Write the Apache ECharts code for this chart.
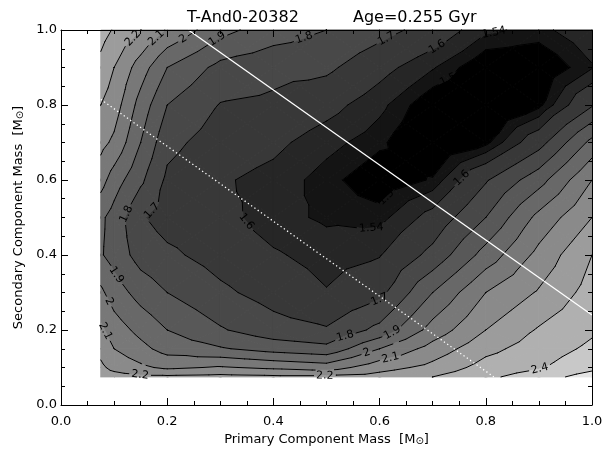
<!DOCTYPE html>
<html><head><meta charset="utf-8">
<script src="https://cdn.jsdelivr.net/npm/echarts@6.0.0/dist/echarts.min.js"></script>
<style>html,body{margin:0;padding:0;background:#fff;}#chart{width:613px;height:451px;}</style>
</head><body><div id="chart"></div>
<script>
// grid node positions (component masses)
const xNodes = [0.075, 0.1, 0.15, 0.2, 0.3, 0.4, 0.5, 0.6, 0.7, 0.8, 0.9, 1.0];
const yNodes = [0.075, 0.1, 0.15, 0.2, 0.3, 0.4, 0.5, 0.6, 0.7, 0.8, 0.9, 1.0];
// values read per row (secondary mass), columns follow xNodes
const zAtY0075 = [2.25, 2.24, 2.22, 2.22, 2.23, 2.22, 2.22, 2.24, 2.30, 2.38, 2.45, 2.55];
const zAtY0100 = [2.22, 2.17, 2.12, 2.08, 2.11, 2.08, 2.05, 2.16, 2.23, 2.34, 2.39, 2.47];
const zAtY0150 = [2.17, 2.10, 2.03, 1.96, 1.91, 1.86, 1.83, 2.00, 2.14, 2.27, 2.35, 2.42];
const zAtY0200 = [2.12, 2.05, 1.97, 1.90, 1.81, 1.74, 1.71, 1.83, 2.04, 2.20, 2.31, 2.385];
const zAtY0300 = [2.02, 1.95, 1.86, 1.80, 1.72, 1.66, 1.605, 1.67, 1.90, 2.10, 2.21, 2.34];
const zAtY0400 = [1.91, 1.86, 1.76, 1.72, 1.66, 1.61, 1.57, 1.595, 1.73, 1.94, 2.13, 2.30];
const zAtY0500 = [1.92, 1.86, 1.71, 1.66, 1.63, 1.56, 1.53, 1.52, 1.63, 1.80, 2.03, 2.20];
const zAtY0600 = [2.04, 1.95, 1.82, 1.68, 1.61, 1.575, 1.515, 1.465, 1.505, 1.69, 1.86, 2.10];
const zAtY0700 = [2.13, 2.08, 1.90, 1.73, 1.65, 1.62, 1.56, 1.51, 1.44, 1.485, 1.66, 1.93];
const zAtY0800 = [2.20, 2.15, 1.96, 1.80, 1.695, 1.68, 1.63, 1.555, 1.46, 1.43, 1.485, 1.69];
const zAtY0900 = [2.27, 2.20, 2.05, 1.90, 1.77, 1.73, 1.72, 1.63, 1.545, 1.455, 1.45, 1.535];
const zAtY1000 = [2.34, 2.29, 2.20, 2.09, 1.93, 1.85, 1.80, 1.735, 1.66, 1.55, 1.525, 1.58];
const zRows = [zAtY0075, zAtY0100, zAtY0150, zAtY0200, zAtY0300, zAtY0400, zAtY0500,
               zAtY0600, zAtY0700, zAtY0800, zAtY0900, zAtY1000];

// contour levels and grey of each band (below first level ... above last level)
const levels = [1.5, 1.54, 1.6, 1.7, 1.8, 1.9, 2.0, 2.1, 2.2, 2.3, 2.4, 2.5];
const bandGray = [0, 20, 38, 56, 72, 88, 104, 120, 138, 156, 176, 200, 228];

// contour labels: text and approximate anchor
const labelTexts = ['2.2','2.1','2','1.9','1.8','1.7','1.6','1.54','1.5','1.5','1.54','1.6','1.6','1.7','1.8','1.9','2','2.1','2.2','2.2','1.7','1.8','1.9','2','2.1','2.4'];
const labelXs = [0.145,0.185,0.228,0.29,0.455,0.616,0.707,0.817,0.726,0.61,0.585,0.748,0.35,0.152,0.117,0.111,0.098,0.087,0.149,0.497,0.604,0.538,0.626,0.576,0.62,0.902];
const labelYs = [0.965,0.97,0.98,0.985,0.99,0.967,0.958,0.98,0.877,0.557,0.455,0.615,0.49,0.543,0.513,0.353,0.281,0.2,0.081,0.081,0.273,0.17,0.188,0.139,0.127,0.095];

// constant total-mass lines (solid, dotted)
const massSums = [1.24, 0.89];
const titleLeft = 'T-And0-20382';
const titleRight = 'Age=0.255 Gyr';

const FONT = 'DejaVu Sans';
const EPS = 1e-6;
function fixv(v){ for (const L of levels) if (Math.abs(v - L) < EPS) v += 3 * EPS; return v; }
function bandColor(b){ const g = bandGray[b]; return 'rgb(' + g + ',' + g + ',' + g + ')'; }

function cellTris(api, i, j){
  const c = (ii, jj) => { const p = api.coord([xNodes[ii], yNodes[jj]]); return [p[0], p[1], fixv(zRows[jj][ii])]; };
  const a = c(i, j), b = c(i + 1, j), d = c(i + 1, j + 1), e = c(i, j + 1);
  const m = [(a[0]+b[0]+d[0]+e[0])/4, (a[1]+b[1]+d[1]+e[1])/4, fixv((a[2]+b[2]+d[2]+e[2])/4)];
  return [[a, b, m], [b, d, m], [d, e, m], [e, a, m]];
}
function clipPoly(poly, L, keepAbove){
  const out = [];
  for (let k = 0; k < poly.length; k++){
    const a = poly[k], b = poly[(k + 1) % poly.length];
    const ina = keepAbove ? a[2] >= L : a[2] <= L;
    const inb = keepAbove ? b[2] >= L : b[2] <= L;
    if (ina) out.push(a);
    if (ina !== inb){
      const t = (L - a[2]) / (b[2] - a[2]);
      out.push([a[0] + t * (b[0] - a[0]), a[1] + t * (b[1] - a[1]), L]);
    }
  }
  return out;
}
function triSeg(t, L){
  const pts = [];
  for (let k = 0; k < 3; k++){
    const a = t[k], b = t[(k + 1) % 3];
    if ((a[2] - L) * (b[2] - L) < 0){
      const s = (L - a[2]) / (b[2] - a[2]);
      pts.push([a[0] + s * (b[0] - a[0]), a[1] + s * (b[1] - a[1])]);
    }
  }
  return pts.length === 2 ? pts : null;
}

let cache = null;
function getPlacements(api){
  const o = api.coord([0, 0]), p = api.coord([1, 1]);
  const key = o.join(',') + ',' + p.join(',');
  if (cache && cache.key === key) return cache;
  const segs = levels.map(() => []);
  for (let i = 0; i < xNodes.length - 1; i++)
    for (let j = 0; j < yNodes.length - 1; j++)
      for (const t of cellTris(api, i, j))
        levels.forEach((L, li) => { const s = triSeg(t, L); if (s) segs[li].push(s); });
  const labels = labelTexts.map((txt, k) => {
    const L = parseFloat(txt);
    const li = levels.findIndex(l => Math.abs(l - L) < 1e-9);
    const A = api.coord([labelXs[k], labelYs[k]]);
    let best = null, bd = Infinity;
    for (const s of segs[li]){
      const dx = s[1][0] - s[0][0], dy = s[1][1] - s[0][1];
      const len2 = dx * dx + dy * dy || 1e-9;
      let u = ((A[0] - s[0][0]) * dx + (A[1] - s[0][1]) * dy) / len2;
      u = Math.max(0, Math.min(1, u));
      const qx = s[0][0] + u * dx, qy = s[0][1] + u * dy;
      const d = (qx - A[0]) ** 2 + (qy - A[1]) ** 2;
      if (d < bd){ bd = d; best = { x: qx, y: qy, dx, dy }; }
    }
    if (!best) return null;
    let rot = Math.atan2(-best.dy, best.dx);
    if (rot > Math.PI / 2) rot -= Math.PI;
    if (rot < -Math.PI / 2) rot += Math.PI;
    const w = txt.replace('.', '').length * 7 + (txt.indexOf('.') >= 0 ? 3.5 : 0);
    return { x: best.x, y: best.y, rot, text: txt, r: w / 2 + 2.5 };
  });
  cache = { key, segs, labels };
  return cache;
}
function cutSegment(p0, p1, labels){
  let intervals = [[0, 1]];
  const dx = p1[0] - p0[0], dy = p1[1] - p0[1];
  const a = dx * dx + dy * dy;
  if (a < 1e-12) return [];
  for (const lab of labels){
    if (!lab) continue;
    const fx = p0[0] - lab.x, fy = p0[1] - lab.y;
    const b = 2 * (fx * dx + fy * dy), c = fx * fx + fy * fy - lab.r * lab.r;
    const disc = b * b - 4 * a * c;
    if (disc <= 0) continue;
    const sq = Math.sqrt(disc);
    const t1 = (-b - sq) / (2 * a), t2 = (-b + sq) / (2 * a);
    const next = [];
    for (const [s, e] of intervals){
      if (t2 <= s || t1 >= e){ next.push([s, e]); continue; }
      if (t1 > s) next.push([s, t1]);
      if (t2 < e) next.push([t2, e]);
    }
    intervals = next;
  }
  return intervals.map(([s, e]) => [[p0[0] + s * dx, p0[1] + s * dy], [p0[0] + e * dx, p0[1] + e * dy]]);
}

function renderFill(params, api){
  const i = api.value(2), j = api.value(3);
  const children = [];
  for (const t of cellTris(api, i, j)){
    for (let b = 0; b <= levels.length; b++){
      let poly = t;
      if (b > 0) poly = clipPoly(poly, levels[b - 1], true);
      if (poly.length < 3) continue;
      if (b < levels.length) poly = clipPoly(poly, levels[b], false);
      if (poly.length < 3) continue;
      const col = bandColor(b);
      children.push({ type: 'polygon', silent: true, shape: { points: poly.map(q => [q[0], q[1]]) },
        style: { fill: col, stroke: col, lineWidth: 1, lineJoin: 'round' } });
    }
  }
  return { type: 'group', children };
}
function renderLines(params, api){
  const P = getPlacements(api);
  const i = api.value(2), j = api.value(3);
  const children = [];
  for (const t of cellTris(api, i, j))
    for (const L of levels){
      const s = triSeg(t, L);
      if (!s) continue;
      for (const pc of cutSegment(s[0], s[1], P.labels))
        children.push({ type: 'line', silent: true,
          shape: { x1: pc[0][0], y1: pc[0][1], x2: pc[1][0], y2: pc[1][1] },
          style: { stroke: '#000', lineWidth: 1, lineCap: 'round' } });
    }
  return { type: 'group', children };
}
function renderLabel(params, api){
  const P = getPlacements(api);
  const lab = P.labels[api.value(2)];
  if (!lab) return { type: 'group', children: [] };
  return { type: 'text', silent: true, x: lab.x, y: lab.y, rotation: lab.rot,
    style: { text: lab.text, fill: '#000', fontSize: 11, fontFamily: FONT, align: 'center', verticalAlign: 'middle' } };
}

const cellData = [];
for (let i = 0; i < xNodes.length - 1; i++)
  for (let j = 0; j < yNodes.length - 1; j++)
    cellData.push([(xNodes[i] + xNodes[i + 1]) / 2, (yNodes[j] + yNodes[j + 1]) / 2, i, j]);
const labelData = labelTexts.map((t, k) => [labelXs[k], labelYs[k], k]);

const xMin = xNodes[0], yMin = yNodes[0], xMax = xNodes[xNodes.length - 1], yMax = yNodes[yNodes.length - 1];
function sumLine(S){
  const x0 = Math.max(xMin, S - yMax), x1 = Math.min(xMax, S - yMin);
  return [[x0, S - x0], [x1, S - x1]];
}

const axisCommon = {
  type: 'value', min: 0, max: 1, interval: 0.2, z: 10,
  axisLine: { onZero: false, lineStyle: { color: '#000', width: 1 } },
  axisTick: { inside: true, length: 7, lineStyle: { color: '#000', width: 1 } },
  minorTick: { show: true, splitNumber: 4, length: 4, lineStyle: { color: '#000', width: 1 } },
  splitLine: { show: false }, minorSplitLine: { show: false }
};
const nameRich = { s: { fontSize: 10, fontFamily: FONT, color: '#000', padding: [4, 0, 0, 0] } };
const titleStyle = { fontFamily: FONT, fontSize: 16, fontWeight: 'normal', color: '#000' };

const chart = echarts.init(document.getElementById('chart'), null, { renderer: 'canvas' });
chart.setOption({
  animation: false,
  backgroundColor: '#fff',
  title: [
    { text: titleLeft, left: 182, top: 5, textStyle: titleStyle },
    { text: titleRight, left: 348, top: 5, textStyle: titleStyle }
  ],
  grid: { left: 61, right: 21, top: 30, bottom: 46, containLabel: false, outerBoundsMode: 'none' },
  xAxis: [
    Object.assign({}, axisCommon, { position: 'bottom',
      axisLabel: { color: '#000', fontSize: 13, fontFamily: FONT, margin: 10, formatter: v => v.toFixed(1) },
      name: 'Primary Component Mass  [M{s|⊙}]', nameLocation: 'middle', nameGap: 25,
      nameTextStyle: { color: '#000', fontSize: 13, fontFamily: FONT, rich: nameRich } }),
    Object.assign({}, axisCommon, { position: 'top', axisLabel: { show: false } })
  ],
  yAxis: [
    Object.assign({}, axisCommon, { position: 'left',
      axisLabel: { color: '#000', fontSize: 13, fontFamily: FONT, margin: 4, formatter: v => v.toFixed(1) },
      name: 'Secondary Component Mass  [M{s|⊙}]', nameLocation: 'middle', nameGap: 32,
      nameTextStyle: { color: '#000', fontSize: 13, fontFamily: FONT, rich: nameRich } }),
    Object.assign({}, axisCommon, { position: 'right', axisLabel: { show: false } })
  ],
  series: [
    { type: 'custom', name: 'fill', z: 1, renderItem: renderFill, data: cellData,
      encode: { x: 0, y: 1 }, xAxisIndex: 0, yAxisIndex: 0, silent: true },
    { type: 'custom', name: 'contours', z: 2, renderItem: renderLines, data: cellData,
      encode: { x: 0, y: 1 }, xAxisIndex: 0, yAxisIndex: 0, silent: true },
    { type: 'line', name: 'sumSolid', z: 3, data: sumLine(massSums[0]), symbol: 'none', silent: true,
      lineStyle: { color: '#fff', width: 1.3, type: 'solid' } },
    { type: 'line', name: 'sumDotted', z: 3, data: sumLine(massSums[1]), symbol: 'none', silent: true,
      lineStyle: { color: '#fff', width: 1.3, type: [1.3, 2.7] } },
    { type: 'custom', name: 'labels', z: 4, renderItem: renderLabel, data: labelData,
      encode: { x: 0, y: 1 }, xAxisIndex: 0, yAxisIndex: 0, silent: true }
  ]
});
</script>
</body></html>
